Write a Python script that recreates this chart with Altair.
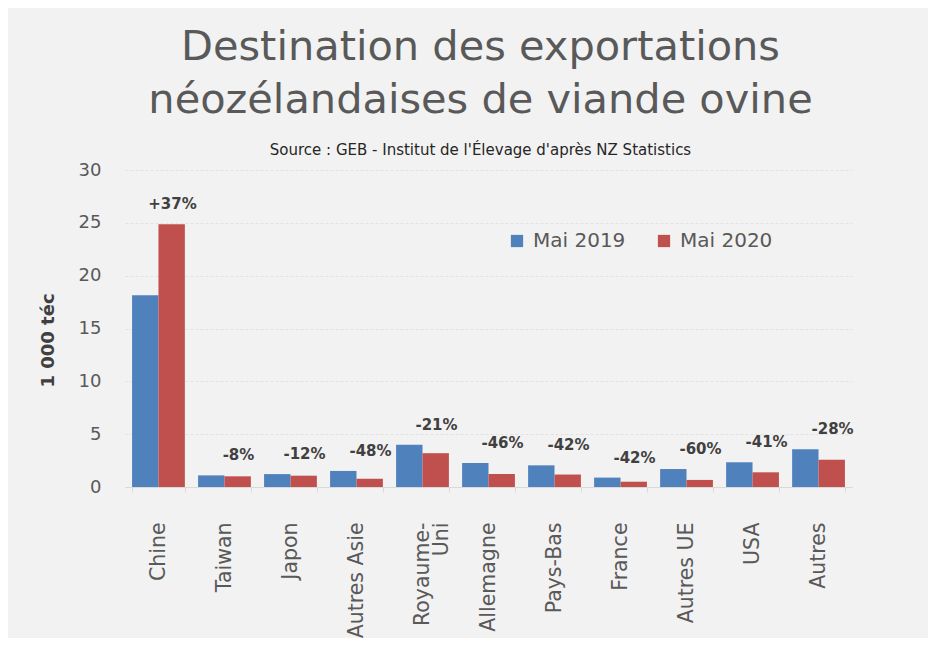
import altair as alt
import pandas as pd

categories = ["Chine", "Taiwan", "Japon", "Autres Asie", "Royaume-\nUni", "Allemagne",
              "Pays-Bas", "France", "Autres UE", "USA", "Autres"]
mai_2019 = [18.15, 1.10, 1.22, 1.52, 4.01, 2.27, 2.05, 0.89, 1.70, 2.34, 3.57]
mai_2020 = [24.86, 1.01, 1.07, 0.79, 3.20, 1.23, 1.18, 0.50, 0.67, 1.39, 2.58]
variation = ["+37%", "-8%", "-12%", "-48%", "-21%", "-46%", "-42%", "-42%", "-60%", "-41%", "-28%"]
series = ["Mai 2019", "Mai 2020"]

rows = []
for c, a, b in zip(categories, mai_2019, mai_2020):
    rows.append({"cat": c, "serie": series[0], "val": a})
    rows.append({"cat": c, "serie": series[1], "val": b})
bars_df = pd.DataFrame(rows)
lab_df = pd.DataFrame({"cat": categories, "v19": mai_2019, "v20": mai_2020, "lab": variation})

FONT = "DejaVu Sans"
GRAY = "#595959"

xscale = alt.Scale(domain=categories, paddingInner=0.2, paddingOuter=0.107)
yscale = alt.Scale(domain=[0, 30])

x_axis = alt.Axis(title=None, labelAngle=-90, labelAlign="right", labelBaseline="middle",
                  labelFontSize=20.5, labelColor=GRAY, labelFont=FONT, labelPadding=30,
                  labelExpr="split(datum.label, '\\n')", labelLineHeight=19,
                  tickBand="extent", tickColor="#d9d9d9", tickSize=5,
                  domainColor="#d9d9d9", grid=False)

bars = alt.Chart(bars_df).mark_bar(stroke=None).encode(
    x=alt.X("cat:N", scale=xscale, axis=x_axis, sort=categories),
    xOffset=alt.XOffset("serie:N", sort=series),
    y=alt.Y("val:Q", scale=yscale,
            axis=alt.Axis(title="1 000 téc", values=[0, 5, 10, 15, 20, 25, 30],
                          labelFontSize=18, labelColor=GRAY, labelFont=FONT, labelPadding=24,
                          titleFontSize=18, titleFont=FONT, titleColor="#404040",
                          titleFontWeight="bold", titleX=-77, titleY=170,
                          titleAngle=270, titleAlign="center", titleBaseline="middle",
                          domain=False, ticks=False, gridColor="#e2e2e2",
                          gridDash=[3, 2])),
    color=alt.Color("serie:N", sort=series,
                    scale=alt.Scale(domain=series, range=["#4f81bd", "#c0504d"]),
                    legend=alt.Legend(title=None, orient="none", direction="horizontal",
                                      legendX=382, legendY=61, symbolType="square",
                                      symbolSize=150, symbolStrokeWidth=0,
                                      labelFontSize=20, labelColor=GRAY, labelFont=FONT,
                                      columnPadding=28, labelOffset=6)),
)

labels = alt.Chart(lab_df).transform_calculate(
    top="max(datum.v19, datum.v20)"
).mark_text(fontSize=15, fontWeight="bold", font=FONT, color="#404040",
            baseline="middle", dx=14, dy=-20).encode(
    x=alt.X("cat:N", scale=xscale, sort=categories),
    y=alt.Y("top:Q", scale=yscale),
    text="lab:N",
)

chart = alt.layer(bars, labels).properties(
    width=727, height=317,
    padding={"left": 117, "top": 162, "right": 76, "bottom": 151},
    autosize=alt.AutoSizeParams(type="none"),
    background="#f2f2f2",
    title=alt.TitleParams(
        text=["Destination des exportations", "néozélandaises de viande ovine"],
        subtitle="Source : GEB - Institut de l'Élevage d'après NZ Statistics",
        fontSize=41.5, font=FONT, color=GRAY, fontWeight="normal", lineHeight=53,
        subtitleFontSize=15, subtitleFont=FONT, subtitleColor="#262626",
        subtitlePadding=22, anchor="middle", offset=3, dx=-8,
    ),
).configure_view(stroke=None).configure_axis(labelFont=FONT)

chart.save("out.html", embed_options={"renderer": "svg", "actions": False})
